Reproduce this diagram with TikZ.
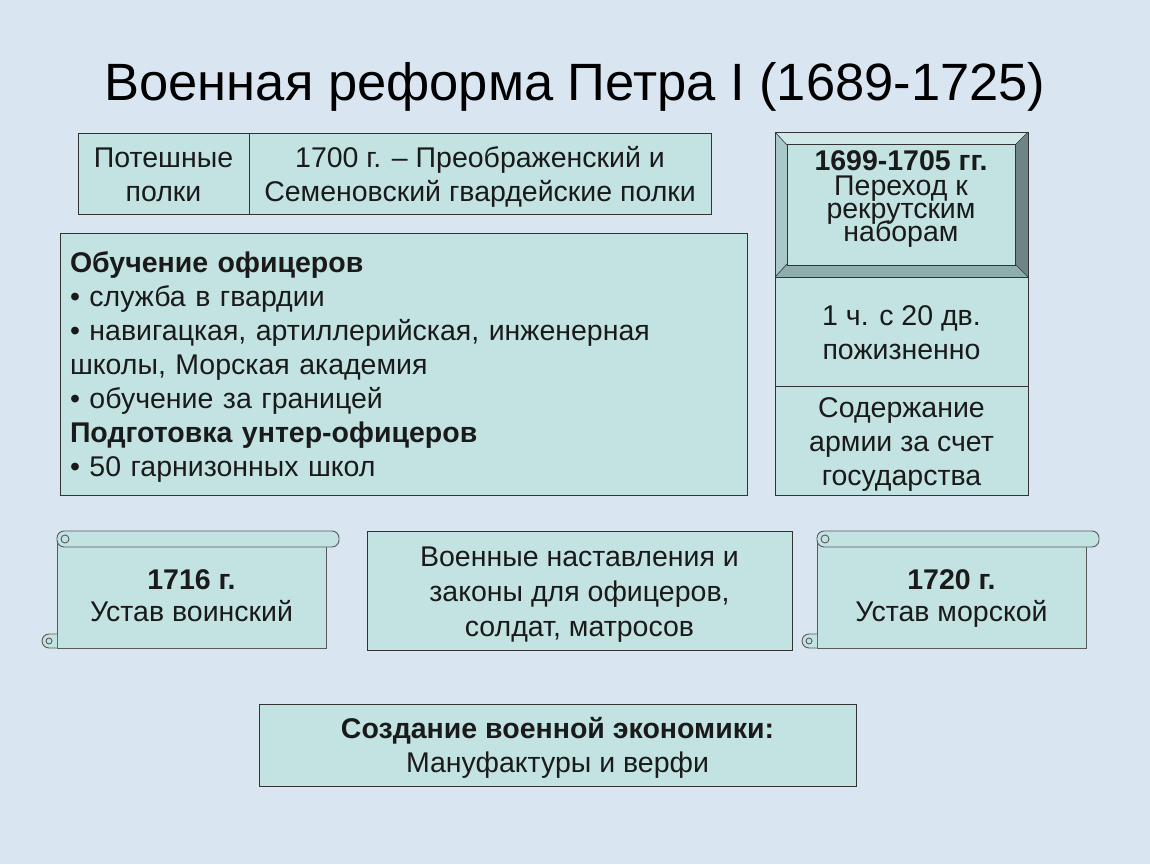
\documentclass[tikz,border=0pt]{standalone}
\usepackage{fontspec}
\setmainfont{Liberation Sans}
\usepackage{tikz}

\definecolor{bgblue}{HTML}{D9E6F2}
\definecolor{boxfill}{HTML}{C3E3E3}
\definecolor{textdark}{HTML}{1A1A1A}
\definecolor{bevtop}{HTML}{D2E8E8}
\definecolor{bevleft}{HTML}{A9C9C9}
\definecolor{bevbottom}{HTML}{8FADAD}
\definecolor{bevright}{HTML}{6F8585}

% fixed first-line height and last-line depth
\newcommand{\boxtop}{\rule{0pt}{27pt}}
\newcommand{\boxbot}{\rule[-6pt]{0pt}{0pt}}

\begin{document}
\begin{tikzpicture}[x=1pt,y=-1pt,
    box/.style={draw=black!80, line width=0.9pt, fill=boxfill, align=center, inner sep=0pt, text=textdark, font=\fontsize{28.5}{34}\selectfont},
    scroll/.style={draw=black!65, line width=0.9pt, fill=boxfill},
    plain/.style={align=center, inner sep=0pt, text=textdark, font=\fontsize{28.5}{32}\selectfont}]

    % draw background
    \fill[bgblue] (0,0) rectangle (1150,864);
    \useasboundingbox (0,0) rectangle (1150,864);

    % draw title
    \node[text=black, font=\fontsize{52.5}{56}\selectfont] (title) at (575,87) {Военная реформа Петра I (1689-1725)};

    % draw top table
    \node[box, minimum width=171pt, minimum height=81pt] (poteshnye) at (163.5,173.5) {\boxtop Потешные\\полки\boxbot};
    \node[box, minimum width=462pt, minimum height=81pt] (guards) at (480,173.5) {\boxtop 1700 г. -- Преображенский и\\Семеновский гвардейские полки\boxbot};

    % draw officers box
    \node[box, minimum width=687pt, minimum height=262pt, text width=667pt, align=left] (officers) at (403.5,364) {%
      \boxtop\textbf{Обучение офицеров}\\
      • служба в гвардии\\
      • навигацкая, артиллерийская, инженерная\\
      школы, Морская академия\\
      • обучение за границей\\
      \textbf{Подготовка унтер-офицеров}\\
      • 50 гарнизонных школ\boxbot};

    % draw bevel box
    \fill[bevtop] (775,132) -- (1028,132) -- (1015,145) -- (787,145) -- cycle;
    \fill[bevleft] (775,132) -- (787,145) -- (787,264) -- (775,277) -- cycle;
    \fill[bevright] (1028,132) -- (1028,277) -- (1015,264) -- (1015,145) -- cycle;
    \fill[bevbottom] (775,277) -- (787,264) -- (1015,264) -- (1028,277) -- cycle;
    \node[box, minimum width=228pt, minimum height=119pt, font=\fontsize{28.5}{23}\selectfont,
      execute at begin node={\lineskiplimit=-30pt}] (recruit) at (901,204.5) {\rule{0pt}{26pt}\textbf{1699-1705 гг.}\\[2pt]Переход к\\рекрутским\\наборам\rule[-24pt]{0pt}{0pt}};
    \draw[black!80, line width=0.9pt] (775,132) rectangle (1028,277);
    \draw[black!80, line width=0.6pt] (775,132) -- (787,145) (1028,132) -- (1015,145)
      (775,277) -- (787,264) (1028,277) -- (1015,264);

    % draw right column boxes
    \node[box, minimum width=253pt, minimum height=109pt] (lifelong) at (901.5,331.5) {\boxtop 1 ч. с 20 дв.\\пожизненно\boxbot};
    \node[box, minimum width=253pt, minimum height=109pt] (upkeep) at (901.5,440.5) {\boxtop Содержание\\армии за счет\\государства\boxbot};

    % draw scrolls
    \foreach \xl in {57,817} {
      \filldraw[scroll] (\xl,540) rectangle (\xl+269,648);
      \filldraw[scroll, rounded corners=7pt] (\xl,531) rectangle (\xl+282,547);
      \draw[scroll] (\xl+8,539) circle (4pt);
      \filldraw[scroll] (\xl,634) -- (\xl-8,634) arc (270:90:7) -- (\xl,648);
      \draw[scroll] (\xl-8,641) circle (3pt);
    }
    \node[plain] (ustav1716) at (191.5,595) {\boxtop\textbf{1716 г.}\\Устав воинский\boxbot};
    \node[plain] (ustav1720) at (951.5,595) {\boxtop\textbf{1720 г.}\\Устав морской\boxbot};

    % draw middle box
    \node[box, minimum width=425pt, minimum height=119pt, font=\fontsize{28.5}{35}\selectfont] (laws) at (579.5,590.5) {\boxtop Военные наставления и\\законы для офицеров,\\солдат, матросов\boxbot};

    % draw economy box
    \node[box, minimum width=597pt, minimum height=82pt] (economy) at (557.5,745) {\boxtop\textbf{Создание военной экономики:}\\Мануфактуры и верфи\boxbot};

\end{tikzpicture}
\end{document}
